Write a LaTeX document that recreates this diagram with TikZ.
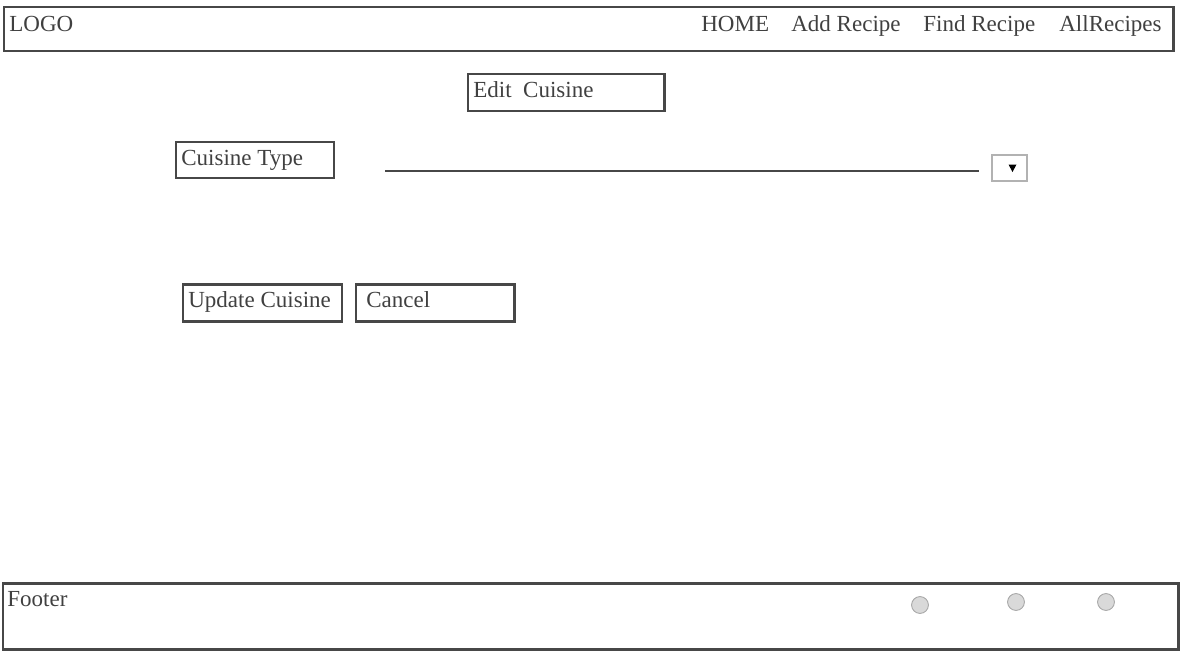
\documentclass[tikz,border=0pt]{standalone}
\usepackage{fontspec}
\setmainfont{Liberation Serif}
\begin{document}
\begin{tikzpicture}[x=0.02cm,y=-0.02cm,
      box/.style={draw=black!72,line width=1.7pt},
      lbl/.style={anchor=base west,inner sep=0pt,text=black!75,
        font=\fontsize{13.1}{15}\selectfont},
      radio/.style={circle,draw=black!35,fill=black!15,line width=0.5pt,
        minimum size=9.6pt,inner sep=0pt}]
      \useasboundingbox (0,0) rectangle (1183,653);
      % header
      \draw[box] (4,7) rectangle (1173,51);
      \path (9,31) node[lbl] (logo) {LOGO};
      \path (701,31) node[lbl] (home) {HOME};
      \path (791,31) node[lbl] (add) {Add Recipe};
      \path (923,31) node[lbl] (find) {Find Recipe};
      \path (1059,31) node[lbl] (all) {AllRecipes};
      % title
      \draw[box] (468,74) rectangle (664,111);
      \path (473,97) node[lbl] (title) {Edit\ \ Cuisine};
      % cuisine type
      \draw[box] (176,142) rectangle (334,178);
      \path (181,165) node[lbl] (type) {Cuisine Type};
      \coordinate (fieldA) at (385,171);
      \coordinate (fieldB) at (979,171);
      \draw[draw=black!72,line width=1.7pt] (fieldA)--(fieldB);
      \draw[draw=black!30,line width=0.6pt] (992,155) rectangle (1027,181);
      \fill (1008.5,164.5)--(1016.5,164.5)--(1012.5,172)--cycle;
      % buttons
      \draw[box] (183,284) rectangle (342,321);
      \path (188,307) node[lbl] (update) {Update Cuisine};
      \draw[box] (356,284) rectangle (514,321);
      \path (366,307) node[lbl] (cancel) {Cancel};
      % footer
      \draw[box] (3,583) rectangle (1178,649);
      \path (7,606) node[lbl] (footer) {Footer};
      \path (920,605) node[radio] (r1) {};
      \path (1016,602) node[radio] (r2) {};
      \path (1106,602) node[radio] (r3) {};
     \end{tikzpicture}
\end{document}
